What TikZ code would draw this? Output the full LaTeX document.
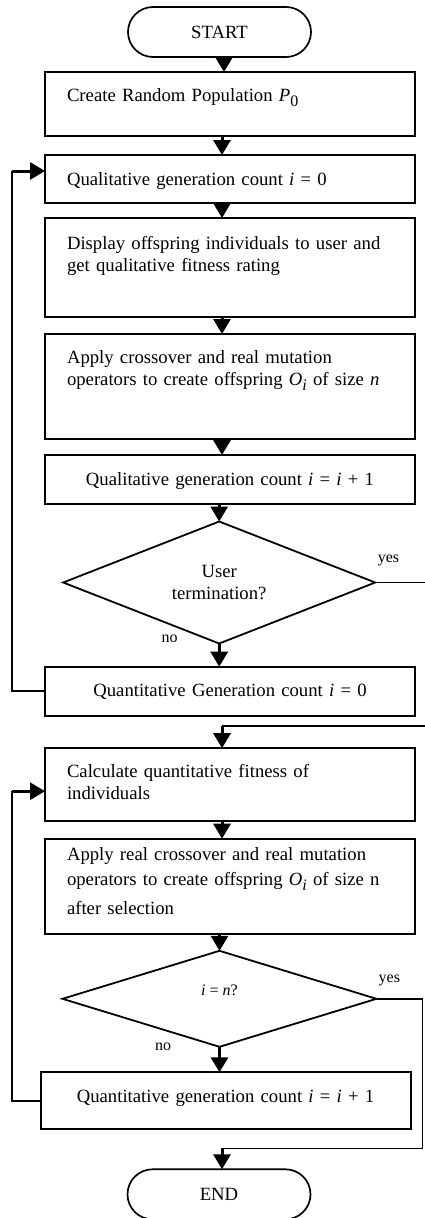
\documentclass[tikz,border=0pt]{standalone}
\usepackage{fontspec}
\setmainfont{Liberation Serif}
\usepackage{tikz}
\usetikzlibrary{shapes,arrows.meta,positioning}

\newcommand{\lowsub}[1]{\raisebox{-5pt}{\fontsize{16pt}{16pt}\selectfont #1}}

\tikzset{
  box/.style={draw, rectangle, line width=2pt, text width=326pt, inner xsep=22pt, inner ysep=0pt, outer sep=0pt, align=left},
  cbox/.style={box, align=center},
  term/.style={draw, rounded rectangle, line width=1.7pt, minimum width=183pt, minimum height=50pt, inner sep=0pt, outer sep=0pt},
  decision/.style={draw, diamond, aspect=2.5, line width=1.8pt, inner sep=0pt, outer sep=0pt, align=center},
  arr/.style={line width=3pt, -{Triangle[length=15pt,width=17pt]}},
  wire/.style={line width=1.5pt},
  lbl/.style={font=\fontsize{16pt}{18pt}\selectfont, inner sep=0pt}
}

\begin{document}
\begin{tikzpicture}[font=\fontsize{18.7pt}{22pt}\selectfont]
    \useasboundingbox (0,0) rectangle (424pt,-1218pt);

    \node[term] (start) at (219.5pt,-32pt) {START};
    \node[box, below of=start, node distance=72pt, xshift=10.5pt, text height=29pt, text depth=35pt] (create) {Create Random Population \textit{P}\lowsub{0}};
    \node[box, below of=create, node distance=75pt, text height=30pt, text depth=18pt] (qual0) {Qualitative generation count \textit{i} = 0};
    \node[box, below of=qual0, node distance=88.5pt, text height=31pt, text depth=68pt] (display) {Display offspring individuals to user and\\get qualitative fitness rating};
    \node[box, below of=display, node distance=119pt, text height=29pt, text depth=76pt] (apply) {Apply crossover and real mutation\\operators to create offspring \textit{O}\lowsub{\textit{i}} of size \textit{n}};
    \node[cbox, below of=apply, node distance=93pt, text height=30pt, text depth=19pt] (qualinc) {Qualitative generation count \textit{i} = \textit{i} + 1};
    \node[decision, below of=qualinc, node distance=103pt, xshift=-10.8pt, minimum width=312pt, minimum height=122pt] (user) {User\\termination?};
    \node[cbox, below of=user, node distance=108.7pt, xshift=10.8pt, text height=30pt, text depth=19pt] (quant0) {Quantitative Generation count \textit{i} = 0};
    \node[box, below of=quant0, node distance=93.5pt, text height=29pt, text depth=44pt] (calc) {Calculate quantitative fitness of\\individuals};
    \node[box, below of=calc, node distance=101.5pt, text height=22pt, text depth=73pt] (applyreal) {Apply real crossover and real mutation\\[3pt]operators to create offspring \textit{O}\lowsub{\textit{i}} of size n\\[7pt]after selection};
    \node[decision, below of=applyreal, node distance=112.6pt, xshift=-10.5pt, minimum width=314pt, minimum height=96pt, font=\fontsize{16pt}{18pt}\selectfont, text height=11pt, text depth=18pt] (check) {\textit{i} = \textit{n}?};
    \node[cbox, below of=check, node distance=102pt, xshift=6pt, text height=30pt, text depth=27pt] (quantinc) {Quantitative generation count \textit{i} = \textit{i} + 1};
    \node[term, below of=quantinc, node distance=93.5pt, xshift=-6.5pt] (stop) {END};

    % main flow
    \draw[arr] ([xshift=-6pt]create.north |- start.south) -- ([xshift=-6pt]create.north);
    \draw[arr] ([xshift=-8pt]create.south) -- ([xshift=-8pt]qual0.north);
    \draw[arr] ([xshift=-8pt]qual0.south) -- ([xshift=-8pt]display.north);
    \draw[arr] ([xshift=-8pt]display.south) -- ([xshift=-8pt]apply.north);
    \draw[arr] ([xshift=-8pt]apply.south) -- ([xshift=-8pt]qualinc.north);
    \draw[arr] (qualinc.south -| user.north) -- (user.north);
    \draw[arr] (user.south) -- node[lbl, pos=0, left=40pt, yshift=5pt] {no} (user.south |- quant0.north);
    \draw[arr] ([xshift=-8pt]calc.south) -- ([xshift=-8pt]applyreal.north);
    \draw[arr] (applyreal.south -| check.north) -- (check.north);
    \draw[arr] (check.south) -- node[lbl, pos=0, left=47pt] {no} (check.south |- quantinc.north);

    % yes branches
    \coordinate (yes1) at ([xshift=51pt]user.east);
    \coordinate (join1) at ([xshift=-8pt,yshift=22pt]calc.north);
    \draw[wire] (user.east) -- node[lbl, pos=0.26, above=16pt] {yes} (yes1) |- (join1);
    \draw[arr] (join1) -- (join1 |- calc.north);
    \coordinate (yes2) at ([xshift=46pt]check.east);
    \coordinate (join2) at ([xshift=3pt,yshift=21pt]stop.north);
    \draw[wire] (check.east) -- node[lbl, pos=0.28, above=12pt] {yes} (yes2) |- (join2);
    \draw[arr] (join2) -- (join2 |- stop.north);

    % loops back
    \coordinate (loop1) at ([xshift=-33pt,yshift=8pt]qual0.west);
    \draw[wire] (quant0.west) -| (loop1);
    \draw[arr] (loop1) -- (loop1 -| qual0.west);
    \coordinate (loop2) at ([xshift=-33pt,yshift=-6.5pt]calc.west);
    \draw[wire] (quantinc.west) -| (loop2);
    \draw[arr] (loop2) -- (loop2 -| calc.west);
\end{tikzpicture}
\end{document}
